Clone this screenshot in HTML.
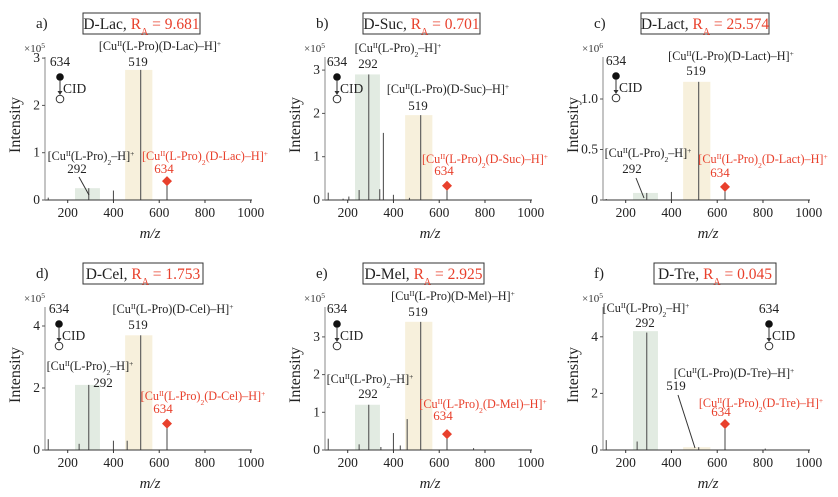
<!DOCTYPE html>
<html><head><meta charset="utf-8"><style>
html,body{margin:0;padding:0;background:#fff;}
svg, svg text{font-family:"Liberation Serif","DejaVu Serif",serif;}
</style></head><body>
<svg id="fig" width="838" height="492" viewBox="0 0 838 492" xmlns="http://www.w3.org/2000/svg" font-family="Liberation Serif, serif"></svg>
<script>
// ---- data ----
const aMz = [115,292,400,519,634];
const aInt = [0.05,0.25,0.2,2.75,0.4];
const bMz = [115,180,205,250,292,340,356,400,470,519,634];
const bInt = [0.17,0.03,0.08,0.23,2.9,0.25,1.55,0.12,0.05,1.96,0.33];
const cMz = [115,292,400,519,634];
const cInt = [0.01,0.07,0.08,1.17,0.13];
const dMz = [115,250,292,400,460,519,634];
const dInt = [0.35,0.2,2.1,0.3,0.3,3.7,0.85];
const eMz = [115,250,292,345,400,430,460,519,634,750];
const eInt = [0.3,0.15,1.2,0.08,0.45,0.12,0.82,3.4,0.42,0.05];
const fMz = [115,250,292,519,634,810];
const fInt = [0.35,0.3,4.15,0.1,0.92,0.05];
const aBands = [0.25,2.75];
const bBands = [2.9,1.96];
const cBands = [0.07,1.17];
const dBands = [2.1,3.7];
const eBands = [1.2,3.4];
const fBands = [4.2,0.1];
const aTicks = [0,1,2,3];
const bTicks = [0,1,2,3];
const cTicks = [0,0.5,1.0];
const cTickLabels = ['0','0.5','1.0'];
const dTicks = [0,2,4];
const eTicks = [0,1,2,3];
const fTicks = [0,2,4];
const xTicks = [200,400,600,800,1000];
const names = ['Lac','Suc','Lact','Cel','Mel','Tre'];
const raValues = ['9.681','0.701','25.574','1.753','2.925','0.045'];

const NS='http://www.w3.org/2000/svg';
const svg=document.getElementById('fig');
const FF='"Liberation Serif", "DejaVu Serif", serif';
function mk(tag,attrs,parent){const e=document.createElementNS(NS,tag);for(const k in attrs)e.setAttribute(k,attrs[k]);if(tag==='text')e.style.fontFamily=FF;(parent||svg).appendChild(e);return e;}
const SUP='<tspan baseline-shift="super" font-size="7.5">';
function ion(inner){return '[Cu'+SUP+'II</tspan>'+inner+'–H]'+SUP+'+</tspan>';}
const pro2='(L-Pro)<tspan baseline-shift="sub" font-size="7.5">2</tspan>';

const panels=[
 {id:'a',ox:0,oy:0,mz:aMz,it:aInt,bands:aBands,ticks:aTicks,tl:null,ppu:47.3,exp:'5',box:[83,117],cid:[60,66],
  labels:[['519c',160,50],['519',138,66],['292c',91,160],['292',77,173],['red',205,160],['634',164,173]],lead:[79,177,89,195]},
 {id:'b',ox:280,oy:0,mz:bMz,it:bInt,bands:bBands,ticks:bTicks,tl:null,ppu:43.3,exp:'5',box:[83,117],cid:[57,66],
  labels:[['292c',118,52],['292',88,68],['519c',168,93],['519',138,110],['red',205,163],['634',164,175]]},
 {id:'c',ox:558,oy:0,mz:cMz,it:cInt,bands:cBands,ticks:cTicks,tl:null,ppu:101,exp:'6',box:[83,128],cid:[58,65],
  labels:[['519c',173,60],['519',138,75],['292c',90,157],['292',74,173],['red',205,163],['634',162,177]],lead:[78,178,86,198]},
 {id:'d',ox:0,oy:250,mz:dMz,it:dInt,bands:dBands,ticks:dTicks,tl:null,ppu:31,exp:'5',box:[83,120],cid:[59,63],
  labels:[['519c',173,63],['519',138,79],['292c',90,120],['292',103,137],['red',203,150],['634',163,163]]},
 {id:'e',ox:280,oy:250,mz:eMz,it:eInt,bands:eBands,ticks:eTicks,tl:null,ppu:37.7,exp:'5',box:[83,121],cid:[57,63],
  labels:[['519c',173,50],['519',138,66],['292c',90,133],['292',88,148],['red',203,158],['634',163,170]]},
 {id:'f',ox:558,oy:250,mz:fMz,it:fInt,bands:fBands,ticks:fTicks,tl:null,ppu:28.3,exp:'5',box:[96,122],cid:[211,63],
  labels:[['292c',88,62],['292',87,77],['519c',176,127],['519',118,140],['red',203,157],['634',163,166]],lead:[120,145,137,198]}
];
panels[2].tl=cTickLabels;

panels.forEach((p,i)=>{
  const g=mk('g',{transform:'translate('+p.ox+','+p.oy+')'});
  
  
  const X=mz=>67.7+(mz-200)*0.2288;
  const Y=v=>200-v*p.ppu;
  const nm=names[i];
  const gb=mk('rect',{x:X(232),y:Y(p.bands[0]),width:X(341)-X(232),height:200-Y(p.bands[0]),fill:'#e2ebe2'},g);
  
  
  const bb=mk('rect',{x:X(451),y:Y(p.bands[1]),width:X(570)-X(451),height:200-Y(p.bands[1]),fill:'#f7f0dc'},g);
  
  
  p.mz.forEach((m,k)=>{
    const l=mk('line',{x1:X(m),x2:X(m),y1:200,y2:Y(p.it[k]),stroke:'#555','stroke-width':1.1},g);
    
    
    if(m===634){
      const yy=Y(p.it[k]);
      const d=mk('polygon',{points:(X(m))+','+(yy-5)+' '+(X(m)+5)+','+yy+' '+X(m)+','+(yy+5)+' '+(X(m)-5)+','+yy,fill:'#e8402c'},g);
      
      
    }
  });
  mk('line',{x1:45,x2:252,y1:200,y2:200,stroke:'#333','stroke-width':1},g);
  mk('line',{x1:45,x2:45,y1:200,y2:57,stroke:'#888','stroke-width':1},g);
  xTicks.forEach(t=>{
    mk('line',{x1:X(t),x2:X(t),y1:200,y2:203,stroke:'#333'},g);
    const tx=mk('text',{x:X(t),y:217,'font-size':13.5,'text-anchor':'middle',fill:'#222'},g);
    tx.textContent=t;
    
    
  });
  p.ticks.forEach((t,k)=>{
    mk('line',{x1:42,x2:45,y1:Y(t),y2:Y(t),stroke:'#555'},g);
    const tx=mk('text',{x:40,y:Y(t)+4,'font-size':13.5,'text-anchor':'end',fill:'#222'},g);
    tx.textContent=p.tl?p.tl[k]:t;
    
    
  });
  const ex=mk('text',{x:24,y:52,'font-size':11,fill:'#333'},g);
  ex.innerHTML='×10'+SUP+p.exp+'</tspan>';
  
  
  const yl=mk('text',{x:0,y:0,'font-size':16,'text-anchor':'middle',transform:'translate(20,125) rotate(-90)',fill:'#222'},g);
  yl.textContent='Intensity';
  
  
  const xl=mk('text',{x:150,y:238,'font-size':15,'font-style':'italic','text-anchor':'middle',fill:'#222'},g);
  xl.textContent='m/z';
  
  
  const pl=mk('text',{x:36,y:28,'font-size':15,fill:'#222'},g);
  pl.textContent=p.id+')';
  
  
  const br=mk('rect',{x:p.box[0],y:13,width:p.box[1],height:21,fill:'#fff',stroke:'#333','stroke-width':1},g);
  
  
  const tt=mk('text',{x:p.box[0]+p.box[1]/2,y:29,'font-size':15.5,'text-anchor':'middle',fill:'#222'},g);
  tt.innerHTML='D-'+nm+', <tspan fill="#e8402c">R<tspan baseline-shift="sub" font-size="10">A</tspan> = '+raValues[i]+'</tspan>';
  
  
  const cx=p.cid[0],cy=p.cid[1];
  const c1=mk('text',{x:cx,y:cy,'font-size':13.5,'text-anchor':'middle',fill:'#222'},g);c1.textContent='634';
  
  
  mk('circle',{cx:cx,cy:cy+11,r:3.8,fill:'#111'},g);
  mk('line',{x1:cx,x2:cx,y1:cy+14,y2:cy+26,stroke:'#333'},g);
  mk('polygon',{points:(cx-2.5)+','+(cy+25)+' '+(cx+2.5)+','+(cy+25)+' '+cx+','+(cy+29),fill:'#333'},g);
  mk('circle',{cx:cx,cy:cy+33,r:3.8,fill:'#fff',stroke:'#333'},g);
  const c2=mk('text',{x:cx+3,y:cy+27,'font-size':13.5,fill:'#222'},g);c2.textContent='CID';
  
  
  p.labels.forEach(L=>{
    const [k,x,y]=L;
    let html,fill='#222',fs=12.2;
    if(k==='519c') html=ion('(L-Pro)(D-'+nm+')');
    else if(k==='292c') html=ion(pro2);
    else if(k==='red'){html=ion(pro2+'(D-'+nm+')');fill='#e8402c';}
    else {html=k;fs=13;if(k==='634')fill='#e8402c';}
    const t=mk('text',{x:x,y:y,'font-size':fs,'text-anchor':'middle',fill:fill},g);
    t.innerHTML=html;
    
    
  });
  if(p.lead) mk('line',{x1:p.lead[0],y1:p.lead[1],x2:p.lead[2],y2:p.lead[3],stroke:'#333'},g);
});
</script>
</body></html>
